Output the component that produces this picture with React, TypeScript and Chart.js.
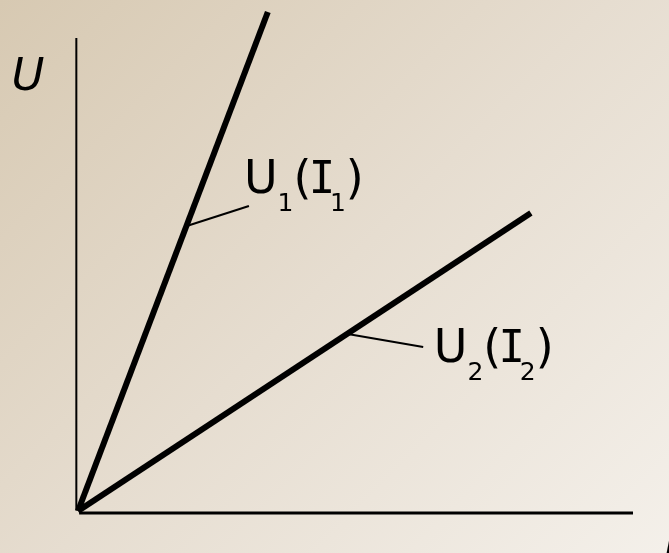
import React, { useEffect, useRef } from "react";
import { Chart, registerables } from "chart.js";

Chart.register(...registerables);

// Curves (data units: x = I, y = U)
const curve1X = [0, 34.2];
const curve1Y = [0, 99.8];
const curve2X = [0, 81.6];
const curve2Y = [0, 59.6];

// Leader lines from curves to their labels
const leader1X = [19.6, 30.8];
const leader1Y = [57.0, 61.0];
const leader2X = [48.6, 62.2];
const leader2Y = [35.4, 32.8];

// Axis lines
const yAxisX = [-0.3, -0.3];
const yAxisY = [0.1, 94.6];
const xAxisX = [0.2, 100];
const xAxisY = [-0.4, -0.4];

// Labels
const axisLabelTexts = ["U", "I"];
const axisLabelX = [-12.0, 105.3];
const axisLabelY = [84.2, -11.4];

const curveLabelParts: [string, boolean][][] = [
  [["U", false], ["1", true], ["(", false], ["I", false], ["1", true], [")", false]],
  [["U", false], ["2", true], ["(", false], ["I", false], ["2", true], [")", false]],
];
const curveLabelX = [29.9, 64.1];
const curveLabelY = [63.6, 29.8];

const pts = (xs: number[], ys: number[]) => xs.map((x, i) => ({ x, y: ys[i] }));

const advanceFactor = (t: string) => (t === "I" ? 0.8 : t === "(" ? 0.85 : 1);

const labelPlugin = {
  id: "labels",
  afterDatasetsDraw(chart: any) {
    const ctx = chart.ctx;
    const sx = chart.scales.x;
    const sy = chart.scales.y;
    ctx.save();
    ctx.fillStyle = "#000";
    ctx.textBaseline = "alphabetic";
    ctx.textAlign = "left";
    ctx.font = "italic 45px 'DejaVu Sans'";
    axisLabelTexts.forEach((t, i) => {
      ctx.fillText(t, sx.getPixelForValue(axisLabelX[i]), sy.getPixelForValue(axisLabelY[i]));
    });
    curveLabelParts.forEach((parts, i) => {
      let x = sx.getPixelForValue(curveLabelX[i]);
      const y = sy.getPixelForValue(curveLabelY[i]);
      parts.forEach(([t, sub]) => {
        if (sub) {
          ctx.font = "25px 'DejaVu Sans'";
          ctx.fillText(t, x, y + 18);
        } else {
          ctx.font = t === "I" ? "44px 'DejaVu Sans Mono'" : "46px 'DejaVu Sans'";
          ctx.fillText(t, x, y);
        }
        x += ctx.measureText(t).width * advanceFactor(t);
      });
    });
    ctx.restore();
  },
};

export default function App() {
  const ref = useRef<HTMLCanvasElement>(null);
  useEffect(() => {
    if (!ref.current) return;
    const mk = (xs: number[], ys: number[], w: number) => ({
      data: pts(xs, ys),
      borderColor: "#000",
      borderWidth: w,
      pointRadius: 0,
      showLine: true,
      clip: false as any,
      borderCapStyle: "butt" as const,
    });
    const chart = new Chart(ref.current, {
      type: "scatter",
      data: {
        datasets: [
          mk(yAxisX, yAxisY, 2),
          mk(xAxisX, xAxisY, 3),
          mk(curve1X, curve1Y, 6),
          mk(curve2X, curve2Y, 6),
          mk(leader1X, leader1Y, 2),
          mk(leader2X, leader2Y, 2),
        ],
      },
      options: {
        animation: false,
        responsive: false,
        devicePixelRatio: 1,
        layout: { padding: { left: 78, right: 36, top: 11, bottom: 42 } },
        plugins: { legend: { display: false }, tooltip: { enabled: false } },
        scales: {
          x: { type: "linear", min: 0, max: 100, display: false },
          y: { type: "linear", min: 0, max: 100, display: false },
        },
        events: [],
      },
      plugins: [labelPlugin],
    });
    return () => chart.destroy();
  }, []);
  return (
    <div
      style={{
        position: "fixed",
        left: 0,
        top: 0,
        width: 669,
        height: 553,
        background: "linear-gradient(135deg, #d7c9b2 0%, #e6ddd0 50%, #f4f0ea 100%)",
      }}
    >
      <canvas ref={ref} width={669} height={553} style={{ display: "block" }} />
    </div>
  );
}
